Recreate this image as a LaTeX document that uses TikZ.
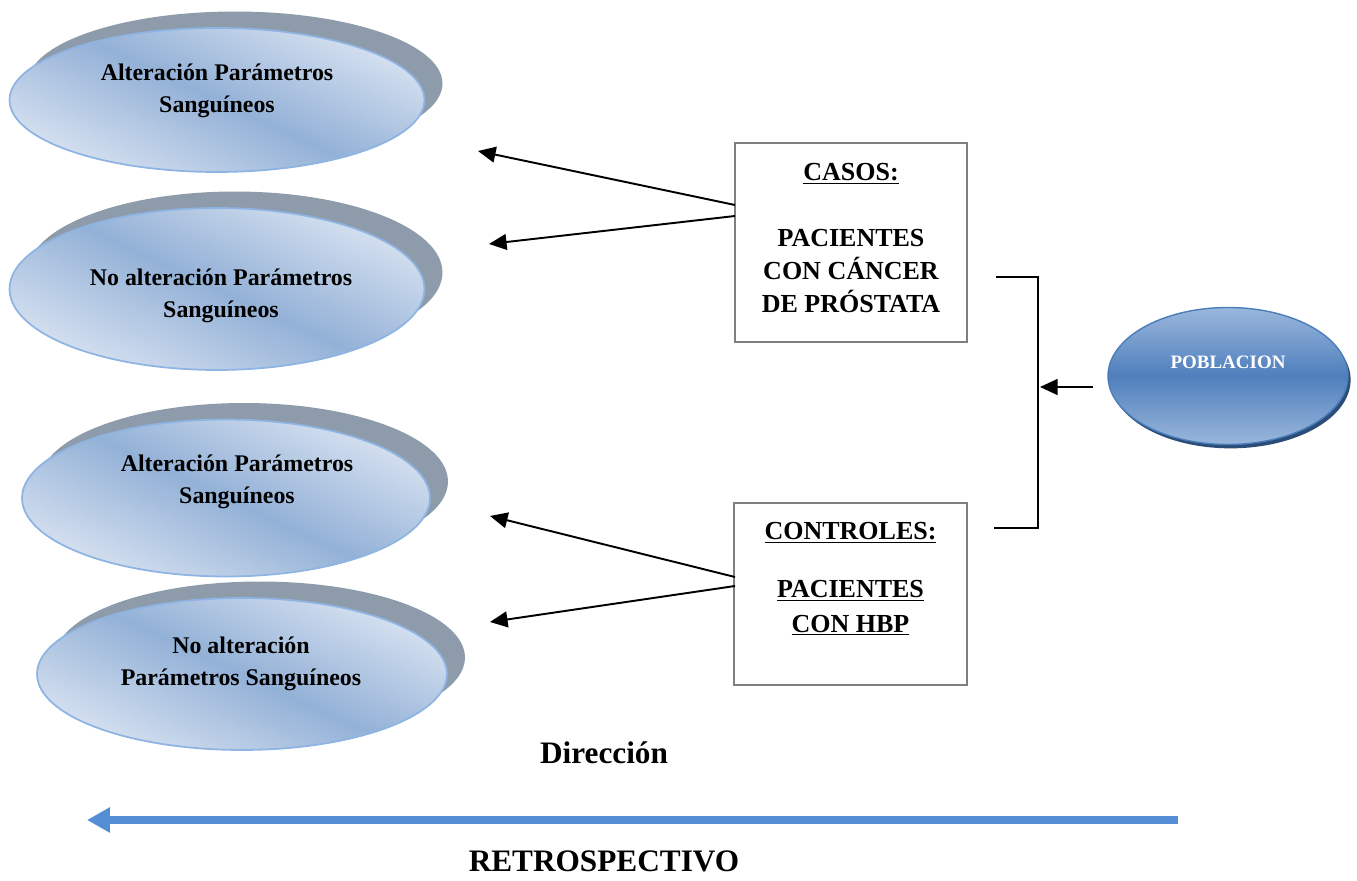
\documentclass[tikz,border=0pt]{standalone}
\usepackage{fontspec}
\setmainfont{Liberation Serif}
\usetikzlibrary{shapes.geometric,arrows.meta,shadows}
\definecolor{elight}{HTML}{D6E1F0}
\definecolor{edark}{HTML}{93B1D7}
\definecolor{eborder}{HTML}{8EB4E3}
\definecolor{eshadow}{HTML}{8E9BAA}
\definecolor{plight}{HTML}{9AB7DB}
\definecolor{pdark}{HTML}{4F7FBD}
\definecolor{pedge}{HTML}{2C4D77}
\definecolor{pborder}{HTML}{4A7EBB}
\definecolor{boxgray}{HTML}{7F7F7F}
\definecolor{dirblue}{HTML}{558ED5}
\begin{document}
\begin{tikzpicture}[x=0.02cm,y=-0.02cm,
  oval/.style={ellipse, inner sep=0pt, draw=eborder, line width=1pt,
    top color=elight, bottom color=elight, middle color=edark, shading angle=-25,
    general shadow={fill=eshadow, shadow xshift=0.36cm, shadow yshift=0.33cm}},
  ovaltext/.style={align=center, font=\fontsize{13.6}{18.1}\selectfont\bfseries},
  boxstyle/.style={draw=boxgray, line width=1.1pt, fill=white, inner sep=0pt},
  boxtext/.style={align=center, font=\fontsize{14.8}{18.7}\selectfont\bfseries},
  arr/.style={line width=1.1pt, -{Triangle[length=10pt,width=9pt]}},
  bigtext/.style={font=\fontsize{17.8}{21}\selectfont\bfseries}
]
\useasboundingbox (0,0) rectangle (1357,881);

% ovals
\node[oval, minimum width=8.3cm, minimum height=2.88cm] (e1) at (217,100) {};
\node[ovaltext] (t1) at (217,91) {Alteración Parámetros\\Sanguíneos};
\node[oval, minimum width=8.3cm, minimum height=3.24cm] (e2) at (217,289) {};
\node[ovaltext] (t2) at (221,296) {No alteración Parámetros\\Sanguíneos};
\node[oval, minimum width=8.16cm, minimum height=3.14cm] (e3) at (226,498) {};
\node[ovaltext] (t3) at (237,482) {Alteración Parámetros\\Sanguíneos};
\node[oval, minimum width=8.2cm, minimum height=3.04cm] (e4) at (242,674) {};
\node[ovaltext] (t4) at (241,664) {No alteración\\Parámetros Sanguíneos};

% boxes
\node[boxstyle, minimum width=4.64cm, minimum height=3.98cm] (casos) at (851,242.5) {};
\node[boxtext] (casost) at (851,238) {\underline{CASOS:}\\[18.7pt]PACIENTES\\CON CÁNCER\\DE PRÓSTATA};
\node[boxstyle, minimum width=4.66cm, minimum height=3.64cm] (ctrl) at (850.5,594) {};
\node[boxtext] (ctrlt) at (850.5,579) {\underline{CONTROLES:}\\[14.2pt]\underline{PACIENTES}\\[1.1pt]\underline{CON HBP}};

% arrows from boxes
\coordinate (a1s) at (735,205);
\coordinate (a1e) at (478,151);
\coordinate (a2s) at (735,216);
\coordinate (a2e) at (489,244);
\coordinate (a3s) at (735,577);
\coordinate (a3e) at (490,516);
\coordinate (a4s) at (735,586);
\coordinate (a4e) at (490,622);
\draw[arr] (a1s) -- (a1e);
\draw[arr] (a2s) -- (a2e);
\draw[arr] (a3s) -- (a3e);
\draw[arr] (a4s) -- (a4e);

% poblacion
\node[ellipse, inner sep=0pt, minimum width=4.8cm, minimum height=2.74cm,
  draw=pborder, line width=0.8pt, top color=plight, bottom color=plight, middle color=pdark,
  general shadow={fill=pedge, shadow xshift=1.5pt, shadow yshift=-2.2pt}] (pob) at (1228,376) {};
\node[text=white, font=\fontsize{10.8}{13}\selectfont\bfseries] (pobt) at (1228,362) {POBLACION};

% bracket
\coordinate (b1) at (996,277);
\coordinate (b2) at (1038,277);
\coordinate (b3) at (1038,528);
\coordinate (b4) at (994,528);
\draw[line width=1.1pt] (b1) -- (b2) -- (b3) -- (b4);
\coordinate (ps) at (1093,387);
\coordinate (pe) at (1040,387);
\draw[arr] (ps) -- (pe);

% direction
\node[bigtext] (dir) at (604,753) {Dirección};
\coordinate (ds) at (1178,820);
\coordinate (de) at (87,820);
\draw[dirblue, line width=4.5pt, -{Triangle[length=13pt,width=13.6pt]}] (ds) -- (de);
\node[bigtext] (retro) at (604,861) {RETROSPECTIVO};
\end{tikzpicture}
\end{document}
